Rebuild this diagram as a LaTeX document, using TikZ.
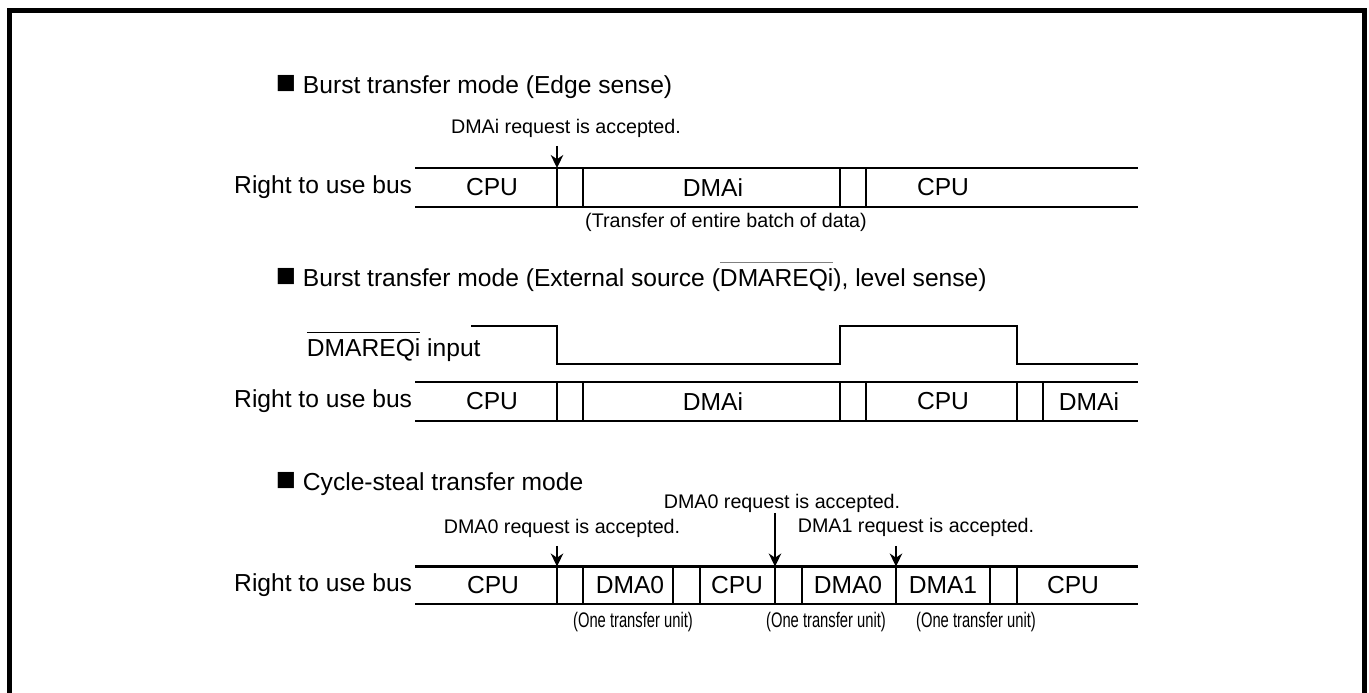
\documentclass[tikz,border=0pt]{standalone}
\usepackage{fontspec}
\setmainfont{Liberation Sans}
\newfontfamily\narrowfont[FakeStretch=0.7]{Liberation Sans}
\usetikzlibrary{arrows.meta}

% overlined (active low) signal name
\newlength\barwd
\newcommand{\negsig}[2][black]{\settowidth{\barwd}{#2}\rlap{\textcolor{#1}{\rule[0.95em]{\barwd}{0.7pt}}}#2}
% big black square in front of the titles
\newcommand{\blsq}{{\fontsize{19}{19}\selectfont■}}

\begin{document}
\begin{tikzpicture}[>={Stealth[length=2.6mm, width=2.5mm]}, line width=1.1pt,
  every node/.style={inner sep=0pt},
  big/.style={font=\fontsize{14}{16}\selectfont},
  small/.style={font=\fontsize{11.2}{13}\selectfont},
  unit/.style={font=\narrowfont\fontsize{12}{14}\selectfont},
  bus/.style={line width=1.3pt},
  sig/.style={line width=1.3pt, line join=miter}]

\useasboundingbox (0,0) rectangle (27.38,13.86);

% Frame (open at the bottom)
\draw[line width=2.85pt] (0.19,0) |- (27.28,13.65) -- (27.28,0);

% Burst transfer mode (edge sense)
\node[big, anchor=west] (t1) at (5.5,12.12) {\blsq\ Burst transfer mode (Edge sense)};
\node[big, anchor=east] (r1) at (8.26,10.11) {Right to use bus};
\draw[bus] (8.30,10.50) -- (22.76,10.50);
\draw[bus] (8.30,9.72) -- (22.76,9.72);
\foreach \x in {11.14,11.66,16.80,17.32}
  \draw (\x,10.50) -- (\x,9.72);
\node[big] (c1a) at (9.84,10.11) {CPU};
\node[big] (d1a) at (14.26,10.11) {DMAi};
\node[big] (c1b) at (18.86,10.11) {CPU};
\node[small] (tr1) at (14.52,9.42) {(Transfer of entire batch of data)};
\node[small] (q1) at (11.32,11.30) {DMAi request is accepted.};
\coordinate (q1s) at (11.14,10.94);
\coordinate (q1e) at (11.14,10.50);
\draw[->] (q1s) -- (q1e);

% Burst transfer mode (level sense)
\node[big, anchor=west] (t2) at (5.5,8.32) {\blsq\ Burst transfer mode (External source (\negsig[gray]{DMAREQi}), level sense)};
\node[big, anchor=west] (in2) at (6.12,6.92) {\negsig{DMAREQi} input};
\draw[sig] (9.42,7.34) -- (11.14,7.34) -- (11.14,6.58) -- (16.80,6.58)
  -- (16.80,7.34) -- (20.34,7.34) -- (20.34,6.58) -- (22.76,6.58);
\node[big, anchor=east] (r2) at (8.26,5.83) {Right to use bus};
\draw[bus] (8.30,6.22) -- (22.76,6.22);
\draw[bus] (8.30,5.44) -- (22.76,5.44);
\foreach \x in {11.14,11.66,16.80,17.32,20.34,20.86}
  \draw (\x,6.22) -- (\x,5.44);
\node[big] (c2a) at (9.84,5.83) {CPU};
\node[big] (d2a) at (14.26,5.83) {DMAi};
\node[big] (c2b) at (18.86,5.83) {CPU};
\node[big] (d2b) at (21.78,5.83) {DMAi};

% Cycle-steal transfer mode
\node[big, anchor=west] (t3) at (5.5,4.18) {\blsq\ Cycle-steal transfer mode};
\node[big, anchor=east] (r3) at (8.26,2.155) {Right to use bus};
\draw[bus] (8.30,2.53) -- (22.76,2.53);
\draw[bus] (8.30,1.78) -- (22.76,1.78);
\foreach \x in {11.14,11.66,13.46,14.00,15.50,16.04,17.92,19.80,20.34}
  \draw (\x,2.53) -- (\x,1.78);
\node[big] (c3a) at (9.86,2.155) {CPU};
\node[big] (d3a) at (12.60,2.155) {DMA0};
\node[big] (c3b) at (14.74,2.155) {CPU};
\node[big] (d3b) at (16.96,2.155) {DMA0};
\node[big] (d3c) at (18.86,2.155) {DMA1};
\node[big] (c3c) at (21.46,2.155) {CPU};
\foreach \x/\n in {12.66/u1,16.52/u2,19.52/u3}
  \node[unit] (\n) at (\x,1.42) {(One transfer unit)};

\node[small] (q3a) at (11.24,3.30) {DMA0 request is accepted.};
\node[small] (q3b) at (15.64,3.80) {DMA0 request is accepted.};
\node[small] (q3c) at (18.32,3.32) {DMA1 request is accepted.};
\coordinate (q3as) at (11.14,2.94);
\coordinate (q3ae) at (11.14,2.53);
\coordinate (q3bs) at (15.50,3.60);
\coordinate (q3be) at (15.50,2.53);
\coordinate (q3cs) at (17.92,2.94);
\coordinate (q3ce) at (17.92,2.53);
\draw[->] (q3as) -- (q3ae);
\draw[->] (q3bs) -- (q3be);
\draw[->] (q3cs) -- (q3ce);

\end{tikzpicture}
\end{document}
